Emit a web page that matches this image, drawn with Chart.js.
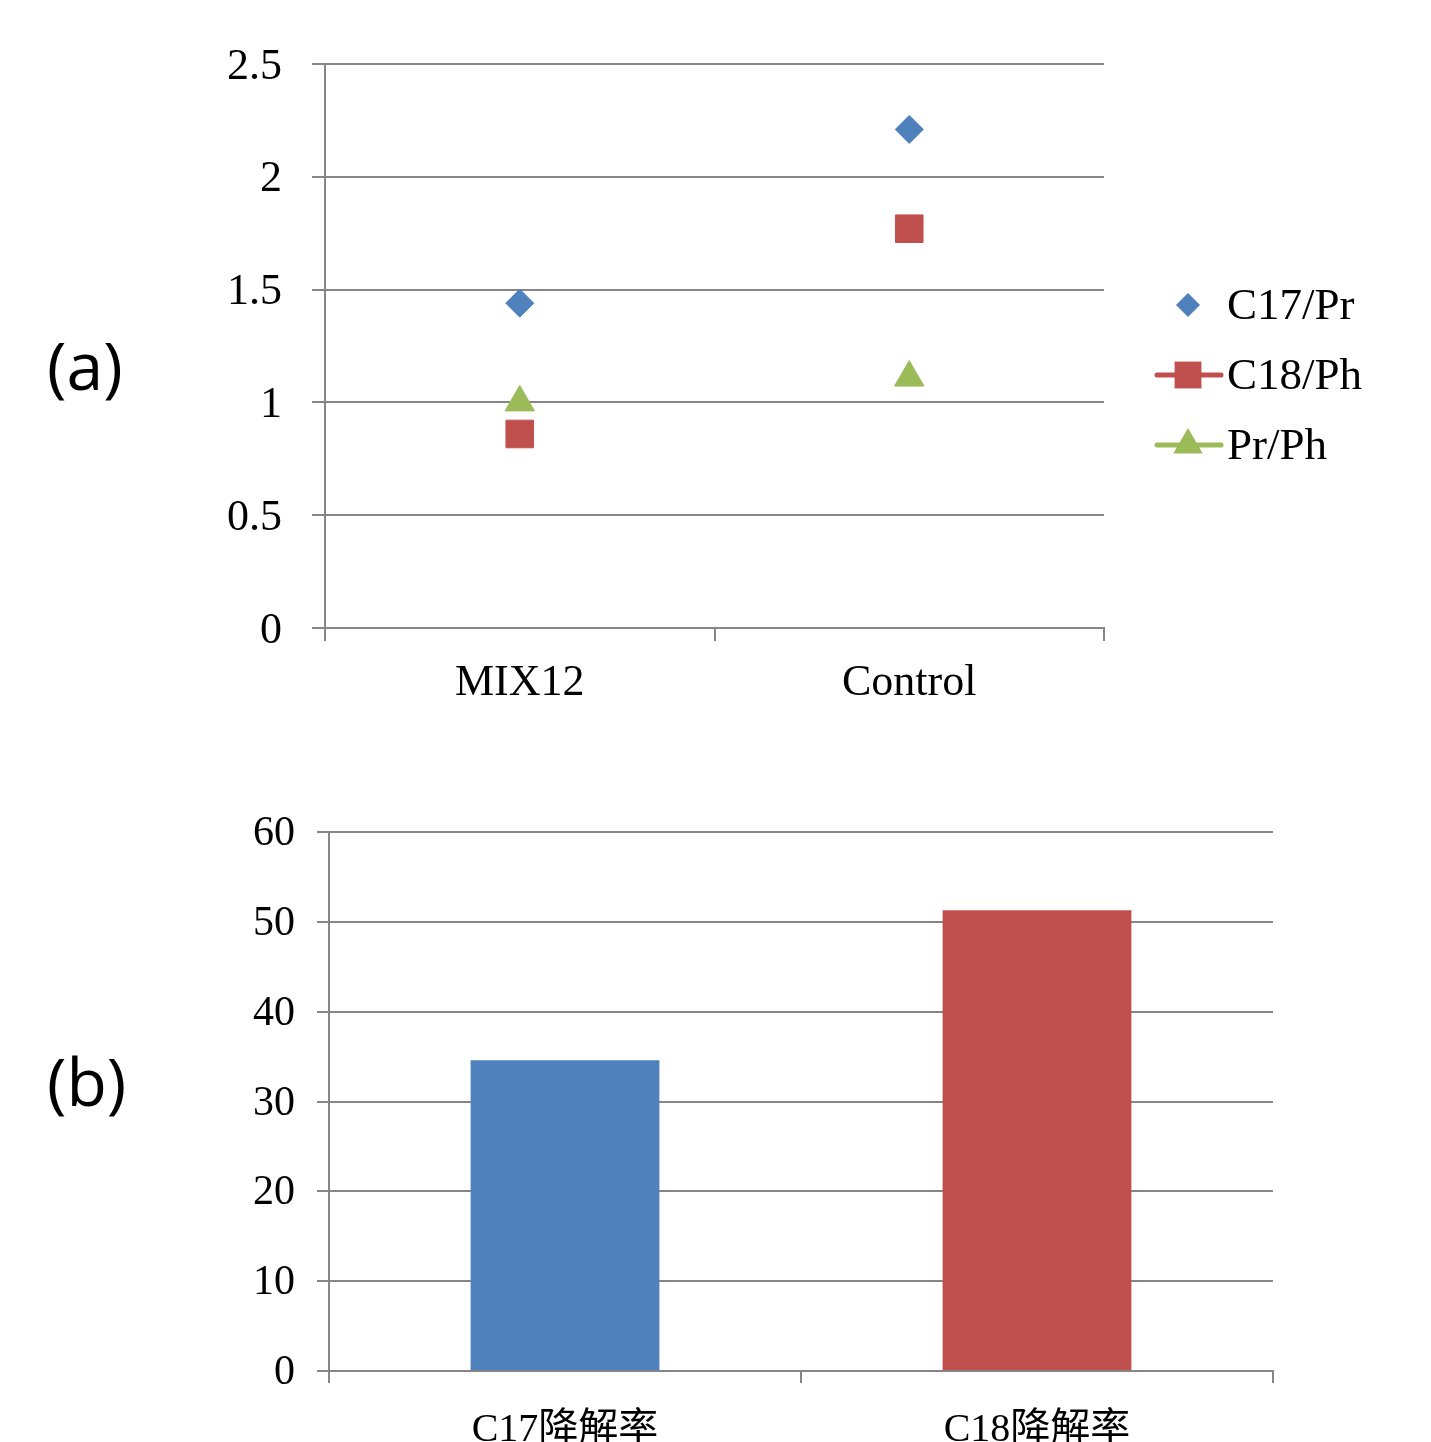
<!DOCTYPE html>
<html>
<head>
<meta charset="utf-8">
<title>C17/Pr, C18/Ph ratios and degradation rates</title>
<script src="https://cdn.jsdelivr.net/npm/chart.js@4.4.0/dist/chart.umd.min.js"></script>
<style>
  body { margin: 0; background: #fff; width: 1431px; height: 1442px; position: relative; overflow: hidden; }
  canvas { position: absolute; left: 0; }
  #ratioChart { top: 0; }
  #rateChart { top: 740px; }
  .tag { position: absolute; left: 47px; font-family: 'Open Sans', 'Liberation Sans', sans-serif; font-size: 66px; line-height: 1; color: #000; }
</style>
</head>
<body>
<div class="tag" style="top: 331px;">(a)</div>
<div class="tag" style="top: 1047px;">(b)</div>
<canvas id="ratioChart" width="1431" height="740"></canvas>
<canvas id="rateChart" width="1431" height="702"></canvas>
<script>
// (a) ratios
const groups = ['MIX12', 'Control'];
const c17pr = [1.44, 2.21];
const c18ph = [0.86, 1.77];
const prph = [1.00, 1.11];
const ratioTicks = [0, 0.5, 1, 1.5, 2, 2.5];

// (b) degradation rates
const rateLabels = ['C17降解率', 'C18降解率'];
const rateValues = [34.6, 51.3];
const rateTicks = [0, 10, 20, 30, 40, 50, 60];

const BLUE = '#4f81bd';
const RED = '#c0504d';
const GREEN = '#9bbb59';
const GRID = '#868686';
const SERIF = "'Liberation Serif', 'Times New Roman', 'Noto Sans CJK TC', serif";

// legend with line + marker like Excel
const ratioLegend = {
    id: 'ratioLegend',
    afterDraw(chart) {
        const ctx = chart.ctx;
        const x = 1188, textX = 1227;
        const rowsY = [305, 375, 445];
        ctx.save();
        chart.data.datasets.forEach((ds, i) => {
            const y = rowsY[i];
            if (ds.legendLine) {
                ctx.strokeStyle = ds.pointBackgroundColor;
                ctx.lineWidth = 5;
                ctx.lineCap = 'round';
                ctx.beginPath();
                ctx.moveTo(1157, y);
                ctx.lineTo(1221, y);
                ctx.stroke();
            }
            ctx.fillStyle = ds.pointBackgroundColor;
            Chart.helpers.drawPoint(ctx, {
                pointStyle: ds.pointStyle,
                radius: ds.legendRadius,
                rotation: 0,
                borderWidth: 0
            }, x, y);
            ctx.fillStyle = '#000';
            ctx.font = '45px ' + SERIF;
            ctx.textBaseline = 'middle';
            ctx.textAlign = 'left';
            ctx.fillText(ds.label, textX, y + 2);
        });
        ctx.restore();
    }
};

new Chart(document.getElementById('ratioChart'), {
    type: 'line',
    data: {
        labels: groups,
        datasets: [
            { label: 'C17/Pr', data: c17pr, pointStyle: 'rectRot', pointRadius: 14, legendRadius: 12, legendLine: false,
              pointBackgroundColor: BLUE, pointBorderColor: BLUE, pointBorderWidth: 1 },
            { label: 'C18/Ph', data: c18ph, pointStyle: 'rect', pointRadius: 19.5, legendRadius: 19, legendLine: true,
              pointBackgroundColor: RED, pointBorderColor: RED, pointBorderWidth: 1 },
            { label: 'Pr/Ph', data: prph, pointStyle: 'triangle', pointRadius: 17, legendRadius: 17, legendLine: true,
              pointBackgroundColor: GREEN, pointBorderColor: GREEN, pointBorderWidth: 1 }
        ].map(ds => Object.assign(ds, { showLine: false, borderColor: ds.pointBackgroundColor }))
    },
    options: {
        responsive: false,
        devicePixelRatio: 1,
        animation: false,
        layout: { padding: { top: 64, right: 327, left: 0, bottom: 0 } },
        plugins: { legend: { display: false }, tooltip: { enabled: false } },
        scales: {
            x: {
                type: 'category',
                offset: true,
                grid: { offset: true, drawOnChartArea: false, tickLength: 13, color: GRID, lineWidth: 2 },
                border: { color: GRID, width: 2 },
                ticks: { color: '#000', font: { family: SERIF, size: 44 }, padding: 16 },
                afterFit: s => { s.height = 112; }
            },
            y: {
                min: 0,
                max: 2.5,
                afterBuildTicks: s => { s.ticks = ratioTicks.map(v => ({ value: v })); },
                grid: { tickLength: 13, color: GRID, lineWidth: 2 },
                border: { color: GRID, width: 2 },
                ticks: { color: '#000', font: { family: SERIF, size: 44 }, padding: 30, labelOffset: 3, callback: v => String(v) },
                afterFit: s => { s.width = 325; }
            }
        }
    },
    plugins: [ratioLegend]
});

new Chart(document.getElementById('rateChart'), {
    type: 'bar',
    data: {
        labels: rateLabels,
        datasets: [{
            data: rateValues,
            backgroundColor: [BLUE, RED],
            categoryPercentage: 1,
            barPercentage: 0.4
        }]
    },
    options: {
        responsive: false,
        devicePixelRatio: 1,
        animation: false,
        layout: { padding: { top: 92, right: 158, left: 0, bottom: 0 } },
        plugins: { legend: { display: false }, tooltip: { enabled: false } },
        scales: {
            x: {
                grid: { offset: true, drawOnChartArea: false, tickLength: 12, color: GRID, lineWidth: 2 },
                border: { color: GRID, width: 2 },
                ticks: { color: '#000', font: { family: SERIF, size: 40 }, padding: 23 },
                afterFit: s => { s.height = 71; }
            },
            y: {
                min: 0,
                max: 60,
                afterBuildTicks: s => { s.ticks = rateTicks.map(v => ({ value: v })); },
                grid: { tickLength: 12, color: GRID, lineWidth: 2 },
                border: { color: GRID, width: 2 },
                ticks: { color: '#000', font: { family: SERIF, size: 42 }, padding: 22, labelOffset: 2 },
                afterFit: s => { s.width = 329; }
            }
        }
    }
});
</script>
</body>
</html>
